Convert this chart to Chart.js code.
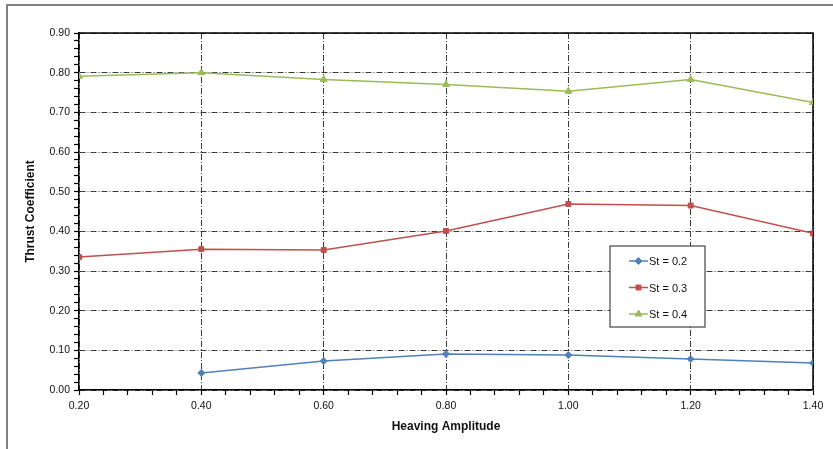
<!DOCTYPE html>
<html>
<head>
<meta charset="utf-8">
<script src="https://cdn.jsdelivr.net/npm/chart.js@4/dist/chart.umd.min.js"></script>
<style>
  html, body { margin: 0; padding: 0; background: #fff; }
  #wrap { position: relative; width: 833px; height: 449px; }
</style>
</head>
<body>
<div id="wrap"><canvas id="thrustChart" width="833" height="449"></canvas></div>
<script>
const amplitudes = [0.2, 0.4, 0.6, 0.8, 1.0, 1.2, 1.4];
const st02 = [null, 0.043, 0.073, 0.091, 0.088, 0.078, 0.068];
const st03 = [0.335, 0.355, 0.353, 0.401, 0.469, 0.465, 0.395];
const st04 = [0.791, 0.800, 0.783, 0.770, 0.753, 0.783, 0.725];
const seriesLabels = ['St = 0.2', 'St = 0.3', 'St = 0.4'];
const xTickLabels = [0.2, 0.4, 0.6, 0.8, 1.0, 1.2, 1.4];
const yTickLabels = [0, 0.1, 0.2, 0.3, 0.4, 0.5, 0.6, 0.7, 0.8, 0.9];

const colors = ['#4F81BD', '#C0504D', '#9BBB59'];
const styles = ['rectRot', 'rect', 'triangle'];
const FONT = '"Liberation Sans", Arial, sans-serif';

// majors from the label arrays, minors split each step into parts
const withMinors = (majors, parts) => {
    const out = [];
    majors.forEach((v, i) => {
        out.push({ value: v, major: true });
        if (i < majors.length - 1) {
            const step = (majors[i + 1] - v) / parts;
            for (let k = 1; k < parts; k++) {
                out.push({ value: v + step * k, major: false });
            }
        }
    });
    return out;
};

const toPoints = (vals) => amplitudes.map((x, i) => ({ x: x, y: vals[i] }));

const frame = {
    id: 'frame',
    beforeDraw(chart) {
        const ctx = chart.ctx;
        ctx.save();
        ctx.fillStyle = '#fff';
        ctx.fillRect(0, 0, chart.width, chart.height);
        ctx.strokeStyle = '#808080';
        ctx.lineWidth = 2;
        ctx.beginPath();
        ctx.moveTo(chart.width, 5);
        ctx.lineTo(7, 5);
        ctx.lineTo(7, chart.height);
        ctx.stroke();
        ctx.restore();
    },
    beforeDatasetsDraw(chart) {
        const { ctx, chartArea } = chart;
        ctx.save();
        ctx.strokeStyle = '#000';
        ctx.lineWidth = 1.5;
        ctx.beginPath();
        ctx.moveTo(chartArea.left, chartArea.top);
        ctx.lineTo(chartArea.right, chartArea.top);
        ctx.lineTo(chartArea.right, chartArea.bottom);
        ctx.stroke();
        ctx.restore();
    },
    afterDraw(chart) {
        const ctx = chart.ctx;
        const box = { x: 610, y: 246, w: 95, h: 81 };
        ctx.save();
        ctx.fillStyle = '#fff';
        ctx.fillRect(box.x, box.y, box.w, box.h);
        ctx.strokeStyle = '#444';
        ctx.lineWidth = 1.2;
        ctx.strokeRect(box.x, box.y, box.w, box.h);
        chart.data.datasets.forEach((ds, i) => {
            const y = box.y + 15 + i * 26.5;
            ctx.strokeStyle = ds.borderColor;
            ctx.lineWidth = 1.5;
            ctx.beginPath();
            ctx.moveTo(box.x + 19, y);
            ctx.lineTo(box.x + 38, y);
            ctx.stroke();
            ctx.fillStyle = ds.backgroundColor;
            ctx.lineWidth = 1;
            Chart.helpers.drawPoint(ctx, {
                pointStyle: ds.pointStyle,
                radius: ds.pointRadius,
                borderWidth: 1,
                rotation: 0
            }, box.x + 28.5, y);
            ctx.fillStyle = '#111';
            ctx.font = '11px ' + FONT;
            ctx.textBaseline = 'middle';
            ctx.textAlign = 'left';
            ctx.fillText(ds.label, box.x + 39, y + 1);
        });
        ctx.restore();
    }
};

const gridOpts = {
    color: (c) => (c.tick && c.tick.major ? '#3a3a3a' : 'rgba(0,0,0,0)'),
    lineWidth: 1,
    drawTicks: true,
    tickLength: 5,
    tickColor: '#000',
    tickWidth: 1.2
};

new Chart(document.getElementById('thrustChart'), {
    type: 'line',
    data: {
        datasets: [st02, st03, st04].map((vals, i) => ({
            label: seriesLabels[i],
            data: toPoints(vals),
            borderColor: colors[i],
            backgroundColor: colors[i],
            pointStyle: styles[i],
            pointRadius: i === 2 ? 4 : 3.5,
            pointBorderWidth: 1,
            borderWidth: 1.5,
            tension: 0,
            spanGaps: false
        }))
    },
    options: {
        responsive: false,
        animation: false,
        layout: { padding: { top: 33, right: 20, left: 0, bottom: 0 } },
        plugins: { legend: { display: false }, tooltip: { enabled: false } },
        scales: {
            x: {
                type: 'linear',
                min: 0.2,
                max: 1.4,
                afterBuildTicks: (scale) => { scale.ticks = withMinors(xTickLabels, 5); },
                afterFit: (scale) => { scale.height = 59; },
                ticks: {
                    autoSkip: false,
                    maxRotation: 0,
                    padding: 5,
                    color: '#111',
                    font: { family: FONT, size: 10.5 },
                    callback: function (value, index, ticks) {
                        return ticks[index].major ? value.toFixed(2) : '';
                    }
                },
                grid: gridOpts,
                border: { display: true, color: '#000', width: 1.5, dash: [6, 2, 1, 2] },
                title: {
                    display: true,
                    text: 'Heaving Amplitude',
                    color: '#111',
                    padding: 15,
                    font: { family: FONT, size: 12, weight: 'bold' }
                }
            },
            y: {
                type: 'linear',
                min: 0,
                max: 0.9,
                afterBuildTicks: (scale) => { scale.ticks = withMinors(yTickLabels, 5); },
                afterFit: (scale) => { scale.width = 79; },
                ticks: {
                    autoSkip: false,
                    padding: 4,
                    color: '#111',
                    font: { family: FONT, size: 10.5 },
                    callback: function (value, index, ticks) {
                        return ticks[index].major ? value.toFixed(2) : '';
                    }
                },
                grid: gridOpts,
                border: { display: true, color: '#000', width: 1.5, dash: [6, 2, 1, 2] },
                title: {
                    display: true,
                    text: 'Thrust Coefficient',
                    color: '#111',
                    padding: 23,
                    font: { family: FONT, size: 12, weight: 'bold' }
                }
            }
        }
    },
    plugins: [frame]
});
</script>
</body>
</html>
